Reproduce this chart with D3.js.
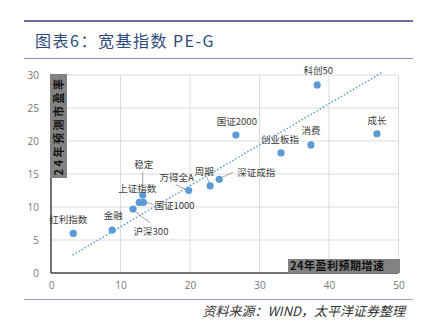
<!DOCTYPE html>
<html><head><meta charset="utf-8">
<script src="https://cdn.jsdelivr.net/npm/d3@7/dist/d3.min.js"></script>
<style>
html,body{margin:0;padding:0;background:#fff;}
svg{display:block;}
</style></head>
<body>
<svg id="c" width="421" height="332"></svg>
<script>
// ---- data ----
const names = ["红利指数","金融","沪深300","上证指数","国证1000","稳定","万得全A","周期","深证成指","国证2000","创业板指","消费","科创50","成长"];
const growth = [3.2, 8.8, 11.8, 12.7, 13.3, 13.2, 19.8, 22.9, 24.2, 26.6, 33.1, 37.4, 38.3, 46.9];
const pe     = [6.0, 6.5, 9.7, 10.7, 10.7, 11.8, 12.5, 13.2, 14.2, 20.9, 18.2, 19.4, 28.5, 21.1];
const trendX = [3.1, 47.5];
const trendY = [2.7, 30.3];
const xTicks = [0, 10, 20, 30, 40, 50];
const yTicks = [0, 5, 10, 15, 20, 25, 30];
const title = "图表6：宽基指数 PE-G";
const source = "资料来源：WIND，太平洋证券整理";
const xTitle = "24年盈利预期增速";
const yTitle = "24年预测市盈率";

// ---- label layout (style) ----
const layout = {
  "红利指数":{dx:-5,dy:-14,a:"middle"},
  "金融":{dx:1,dy:-14,a:"middle"},
  "沪深300":{dx:18,dy:23,a:"middle",l:[3,3,17,14]},
  "上证指数":{dx:-2,dy:-14,a:"middle"},
  "国证1000":{dx:11,dy:3,a:"start",l:[3,0,10,2]},
  "稳定":{dx:1,dy:-30,a:"middle",l:[0,-23,0,-4]},
  "万得全A":{dx:-12,dy:-13,a:"middle",l:[-13,-6,-3,-1]},
  "周期":{dx:-6,dy:-14,a:"middle",l:[-3,-8,-1,-3]},
  "深证成指":{dx:18,dy:-7,a:"start",l:[14,-7,3,-2]},
  "国证2000":{dx:1,dy:-13,a:"middle"},
  "创业板指":{dx:-1,dy:-13,a:"middle"},
  "消费":{dx:0,dy:-14,a:"middle"},
  "科创50":{dx:1,dy:-14,a:"middle"},
  "成长":{dx:0,dy:-13,a:"middle"}
};

const svg = d3.select("#c");
const font = "'Noto Sans CJK SC', 'Noto Sans', sans-serif";

// header
svg.append("line").attr("x1",24).attr("x2",413).attr("y1",21).attr("y2",21)
  .attr("stroke","#6b6da3").attr("stroke-width",2.2);
svg.append("text").attr("x",35).attr("y",47).text(title)
  .attr("font-family",font).attr("font-size",16).attr("letter-spacing",1.5).attr("fill","#2e4b7c");
svg.append("line").attr("x1",24).attr("x2",413).attr("y1",58.5).attr("y2",58.5)
  .attr("stroke","#8a8cbb").attr("stroke-width",1);

// footer
svg.append("line").attr("x1",24).attr("x2",413).attr("y1",299.5).attr("y2",299.5)
  .attr("stroke","#9a9cc6").attr("stroke-width",1);
svg.append("text").attr("x",405).attr("y",316).attr("text-anchor","end").text(source)
  .attr("font-family",font).attr("font-size",13).attr("font-style","italic").attr("fill","#333");

// scales
const x = d3.scaleLinear().domain([0,50]).range([51,398.5]);
const y = d3.scaleLinear().domain([0,30]).range([273,75]);

// grid
const g = svg.append("g");
g.selectAll(".hg").data(yTicks.filter(d=>d>0)).enter().append("line")
  .attr("x1",x(0)).attr("x2",x(50)).attr("y1",d=>y(d)).attr("y2",d=>y(d))
  .attr("stroke","#dcdcdc").attr("stroke-width",1);
g.selectAll(".vg").data(xTicks.filter(d=>d>0)).enter().append("line")
  .attr("x1",d=>x(d)).attr("x2",d=>x(d)).attr("y1",y(0)).attr("y2",y(30))
  .attr("stroke","#dcdcdc").attr("stroke-width",1);

// axes
const xAxis = d3.axisBottom(x).tickValues(xTicks).tickSize(0).tickPadding(9);
const yAxis = d3.axisLeft(y).tickValues(yTicks).tickSize(0).tickPadding(12);
const ax = svg.append("g").attr("transform",`translate(0,${y(0)})`).call(xAxis);
const ay = svg.append("g").attr("transform",`translate(${x(0)},0)`).call(yAxis);
[ax,ay].forEach(a=>{
  a.select(".domain").remove();
  a.selectAll("text").attr("font-family","'Open Sans', 'DejaVu Sans', sans-serif").attr("font-size",10).attr("fill","#777");
});
svg.append("line").attr("x1",x(0)).attr("x2",x(50)).attr("y1",y(0)).attr("y2",y(0))
  .attr("stroke","#444").attr("stroke-width",1.5);
svg.append("line").attr("x1",x(0)).attr("x2",x(0)).attr("y1",y(0)).attr("y2",y(30))
  .attr("stroke","#444").attr("stroke-width",1.5);

// axis title boxes
svg.append("rect").attr("x",50).attr("y",74).attr("width",17).attr("height",104).attr("fill","#828282");
svg.append("text").attr("transform","translate(62.5,126) rotate(-90)").attr("text-anchor","middle")
  .text(yTitle).attr("font-family",font).attr("font-size",11).attr("font-weight","bold")
  .attr("letter-spacing",2.5).attr("fill","#111");
svg.append("rect").attr("x",288).attr("y",259).attr("width",112).attr("height",14).attr("fill","#828282");
svg.append("text").attr("x",290).attr("y",270).text(xTitle)
  .attr("font-family",font).attr("font-size",11).attr("font-weight","bold")
  .attr("letter-spacing",0.5).attr("fill","#111");

// trend line
svg.append("path").datum(trendX.map((d,i)=>[d,trendY[i]]))
  .attr("d",d3.line().x(d=>x(d[0])).y(d=>y(d[1])))
  .attr("fill","none").attr("stroke","#5b9bd5").attr("stroke-width",1.5).attr("stroke-dasharray","1.5,2");

// leader lines
const data = names.map((n,i)=>({n, gx:growth[i], p:pe[i]}));
svg.selectAll(".ld").data(data.filter(d=>layout[d.n].l)).enter().append("line")
  .attr("x1",d=>x(d.gx)+layout[d.n].l[0]).attr("y1",d=>y(d.p)+layout[d.n].l[1])
  .attr("x2",d=>x(d.gx)+layout[d.n].l[2]).attr("y2",d=>y(d.p)+layout[d.n].l[3])
  .attr("stroke","#8a8a8a").attr("stroke-width",0.8);

// points
svg.selectAll(".pt").data(data).enter().append("circle")
  .attr("cx",d=>x(d.gx)).attr("cy",d=>y(d.p)).attr("r",3.6).attr("fill","#5b9bd5");

// labels
svg.selectAll(".lb").data(data).enter().append("text")
  .attr("x",d=>x(d.gx)+layout[d.n].dx).attr("y",d=>y(d.p)+layout[d.n].dy)
  .attr("dy","0.35em").attr("text-anchor",d=>layout[d.n].a)
  .text(d=>d.n).attr("font-family",font).attr("font-size",9.5).attr("fill","#3a3a3a");
</script>
</body></html>
